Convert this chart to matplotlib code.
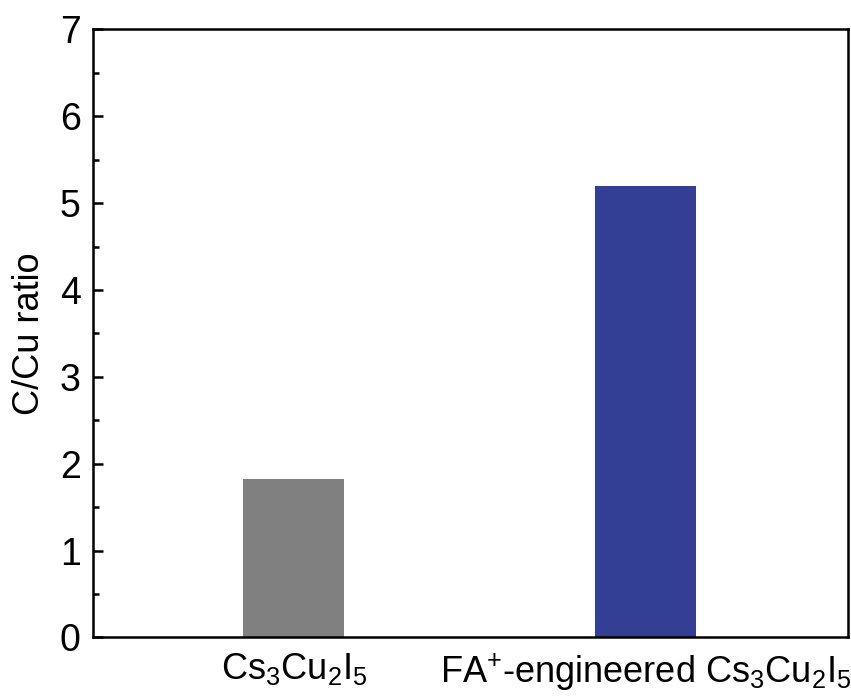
import matplotlib
matplotlib.use("Agg")
import matplotlib.pyplot as plt
import matplotlib.transforms as mtransforms
from matplotlib.ticker import MultipleLocator

# --- data ---
samples = [r'Cs$_3$Cu$_2$I$_5$', r'FA$^{\mathregular{+}}$-engineered Cs$_3$Cu$_2$I$_5$']
cu_ratio = [1.82, 5.20]
bar_colors = ['#808080', '#333F95']

plt.rcParams['font.family'] = ['Liberation Sans', 'DejaVu Sans']
plt.rcParams['mathtext.fontset'] = 'custom'
plt.rcParams['mathtext.rm'] = 'Liberation Sans'
plt.rcParams['mathtext.it'] = 'Liberation Sans'
plt.rcParams['mathtext.bf'] = 'Liberation Sans'

fig = plt.figure(figsize=(8.51, 7.0), dpi=100)
ax = fig.add_axes([0.1093, 0.0893, 0.8872, 0.8687])

positions = list(range(1, len(samples) + 1))
ax.bar(positions, cu_ratio, width=0.287, color=bar_colors)

ax.set_xlim(0.4294, 2.574)
ax.set_ylim(0, 7)
ax.set_xticks(positions)
ax.set_xticklabels(samples, fontsize=26)
ax.set_ylabel('C/Cu ratio', fontsize=26, labelpad=9)

# long second label sits a little left of its bar in the original
lbl = ax.get_xticklabels()[1]
lbl.set_transform(lbl.get_transform() +
                  mtransforms.ScaledTranslation(-0.12, 0, fig.dpi_scale_trans))

ax.yaxis.set_major_locator(MultipleLocator(1))
ax.yaxis.set_minor_locator(MultipleLocator(0.5))
ax.tick_params(axis='y', which='major', direction='in', length=7, width=1.8,
               labelsize=27, pad=9)
ax.tick_params(axis='y', which='minor', direction='in', length=4, width=1.8)
ax.tick_params(axis='x', length=0, pad=10)

for sp in ax.spines.values():
    sp.set_linewidth(1.8)

fig.savefig('out.png', dpi=100)
